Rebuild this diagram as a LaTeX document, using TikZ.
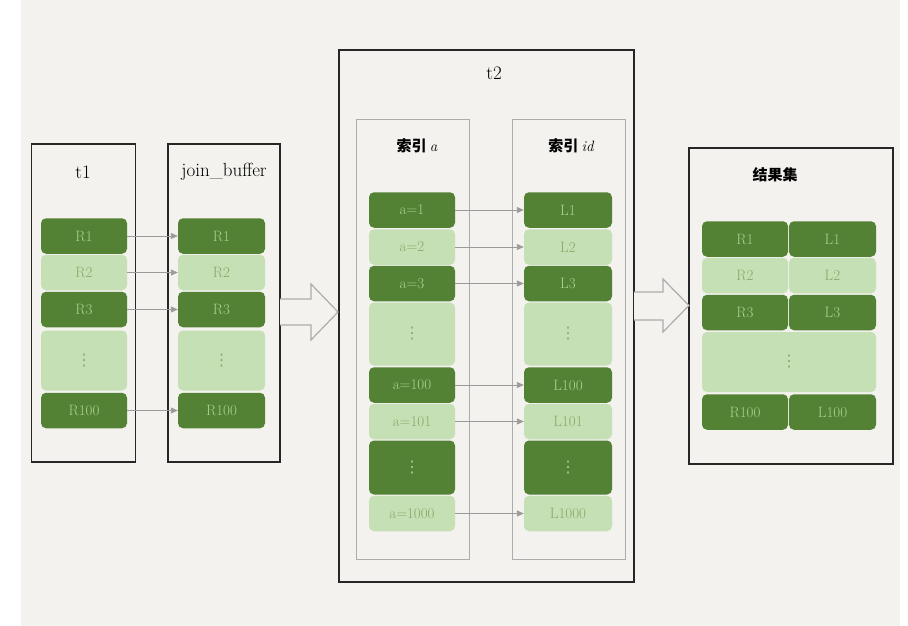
\documentclass[tikz,border=0pt]{standalone}
\usepackage{fontspec}
\newfontfamily\cjkfont{Noto Sans CJK SC}
\newfontfamily\symfont{DejaVu Sans}
\usetikzlibrary{arrows.meta}
\definecolor{bg}{HTML}{F3F2EE}
\definecolor{darkgreen}{HTML}{548235}
\definecolor{lightgreen}{HTML}{C5E0B4}
\definecolor{darktext}{HTML}{A9D18E}
\definecolor{lighttext}{HTML}{86AA68}
\definecolor{linkgray}{HTML}{9A9A9A}
\newcommand{\rowdots}{{\symfont\fontsize{16}{16}\selectfont ⋮}}
\begin{document}
\begin{tikzpicture}[x=1pt,y=-1pt,
    dk/.style={rectangle,rounded corners=5pt,fill=darkgreen,text=darktext,inner sep=0pt,
      minimum height=35.5pt,font=\fontsize{15}{15}\selectfont},
    lt/.style={dk,fill=lightgreen,text=lighttext},
    frame/.style={draw=black!85,line width=1.3pt,inner sep=0pt},
    idx/.style={draw=gray!65,line width=1pt,inner sep=0pt},
    title/.style={font=\fontsize{19}{19}\selectfont},
    cjktitle/.style={font=\cjkfont\fontsize{15}{15}\selectfont},
    link/.style={draw=linkgray,line width=0.9pt,-{Triangle[length=7pt,width=6pt]}},
    bigarrow/.style={draw=gray!65,line width=1.2pt,fill=bg,line join=miter}]
    \fill[white] (0,0) rectangle (908,626);
    \fill[bg] (21,0) rectangle (900,626);
    \useasboundingbox (0,0) rectangle (908,626);
    % t1 and join buffer
    \node[frame,minimum width=104pt,minimum height=318pt] (t1) at (83.5,303) {};
    \node[frame,minimum width=112pt,minimum height=318pt] (jb) at (224,303) {};
    \node[title] (t1title) at (83,172) {t1};
    \node[title] (jbtitle) at (224,172) {join\_buffer};
    \node[dk,minimum width=86pt] (t1r1) at (84,236) {R1};
    \node[lt,minimum width=86pt] (t1r2) at (84,272.5) {R2};
    \node[dk,minimum width=86pt] (t1r3) at (84,309.5) {R3};
    \node[lt,minimum width=86pt,minimum height=60pt] (t1dots) at (84,360.5) {\rowdots};
    \node[dk,minimum width=86pt] (t1r100) at (84,410.5) {R100};
    \node[dk,minimum width=87pt] (jbr1) at (221.5,236) {R1};
    \node[lt,minimum width=87pt] (jbr2) at (221.5,272.5) {R2};
    \node[dk,minimum width=87pt] (jbr3) at (221.5,309.5) {R3};
    \node[lt,minimum width=87pt,minimum height=60pt] (jbdots) at (221.5,360.5) {\rowdots};
    \node[dk,minimum width=87pt] (jbr100) at (221.5,410.5) {R100};
    \draw[link] (t1r1) -- (jbr1);
    \draw[link] (t1r2) -- (jbr2);
    \draw[link] (t1r3) -- (jbr3);
    \draw[link] (t1r100) -- (jbr100);
    % t2 with its two indexes
    \node[frame,minimum width=295pt,minimum height=532pt] (t2) at (486.5,316) {};
    \node[title] (t2title) at (494,73) {t2};
    \node[idx,minimum width=113pt,minimum height=440pt] (idxa) at (412.5,339) {};
    \node[idx,minimum width=113pt,minimum height=440pt] (idxid) at (568.5,339) {};
    \node[cjktitle] (idxatitle) at (417,146) {\textbf{索引} {\rmfamily\itshape a}};
    \node[cjktitle] (idxidtitle) at (571,146) {\textbf{索引} {\rmfamily\itshape id}};
    \node[dk,minimum width=86pt] (ia1) at (412,210) {a=1};
    \node[lt,minimum width=86pt] (ia2) at (412,247) {a=2};
    \node[dk,minimum width=86pt] (ia3) at (412,283.5) {a=3};
    \node[lt,minimum width=86pt,minimum height=63pt] (iadots) at (412,334) {\rowdots};
    \node[dk,minimum width=86pt] (ia100) at (412,385) {a=100};
    \node[lt,minimum width=86pt] (ia101) at (412,421.5) {a=101};
    \node[dk,minimum width=86pt,minimum height=54pt] (iadots2) at (412,467.5) {\rowdots};
    \node[lt,minimum width=86pt] (ia1000) at (412,513.5) {a=1000};
    \node[dk,minimum width=88pt] (id1) at (568,210) {L1};
    \node[lt,minimum width=88pt] (id2) at (568,247) {L2};
    \node[dk,minimum width=88pt] (id3) at (568,283.5) {L3};
    \node[lt,minimum width=88pt,minimum height=63pt] (iddots) at (568,334) {\rowdots};
    \node[dk,minimum width=88pt] (id100) at (568,385) {L100};
    \node[lt,minimum width=88pt] (id101) at (568,421.5) {L101};
    \node[dk,minimum width=88pt,minimum height=54pt] (iddots2) at (568,467.5) {\rowdots};
    \node[lt,minimum width=88pt] (id1000) at (568,513.5) {L1000};
    \draw[link] (ia1) -- (id1);
    \draw[link] (ia2) -- (id2);
    \draw[link] (ia3) -- (id3);
    \draw[link] (ia100) -- (id100);
    \draw[link] (ia101) -- (id101);
    \draw[link] (ia1000) -- (id1000);
    % result set
    \node[frame,minimum width=204pt,minimum height=316pt] (res) at (791,306) {};
    \node[cjktitle] (restitle) at (775,175) {\textbf{结果集}};
    \node[dk,minimum width=86pt] (resr1) at (745,239) {R1};
    \node[lt,minimum width=86pt] (resr2) at (745,275.5) {R2};
    \node[dk,minimum width=86pt] (resr3) at (745,312.5) {R3};
    \node[dk,minimum width=86pt] (resr100) at (745,412) {R100};
    \node[dk,minimum width=87pt] (resl1) at (832.5,239) {L1};
    \node[lt,minimum width=87pt] (resl2) at (832.5,275.5) {L2};
    \node[dk,minimum width=87pt] (resl3) at (832.5,312.5) {L3};
    \node[dk,minimum width=87pt] (resl100) at (832.5,412) {L100};
    \node[lt,minimum width=174pt,minimum height=60pt] (resdots) at (789,362) {\rowdots};
    % hollow arrows between the stages
    \draw[bigarrow] (280,299) -- (311,299) -- (311,284) -- (338,312) -- (311,340) -- (311,325) -- (280,325);
    \draw[bigarrow] (634,292) -- (663,292) -- (663,279) -- (689,305.5) -- (663,332) -- (663,320) -- (634,320);
\end{tikzpicture}
\end{document}
